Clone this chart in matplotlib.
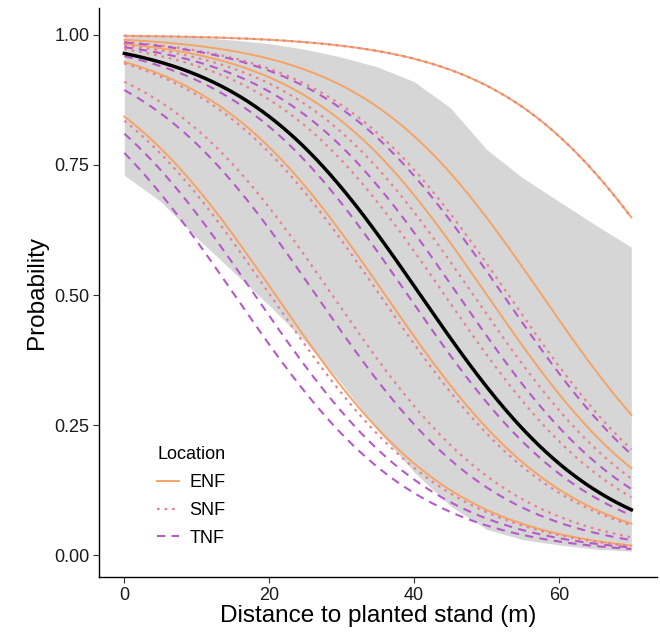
import numpy as np
import matplotlib

matplotlib.use("Agg")
import matplotlib.pyplot as plt
from matplotlib.lines import Line2D

plt.rcParams["font.family"] = ["Liberation Sans", "DejaVu Sans"]

# site-level intercepts (logit scale) with a shared distance slope
slope = -0.0805
enf_int = [6.25, 4.64, 4.03, 2.90, 1.68]
snf_int = [6.25, 4.27, 3.88, 3.56, 2.84, 2.31, 1.62]
tnf_int = [4.21, 3.71, 3.15, 2.13, 1.45, 1.225]
mean_int = 3.29

# confidence band of the population curve
band_x = [0, 5, 10, 15, 20, 25, 30, 35, 40, 45, 50, 55, 60, 65, 70]
band_hi = [0.998, 0.997, 0.995, 0.99, 0.983, 0.972, 0.957, 0.938, 0.91, 0.86, 0.78, 0.725, 0.68, 0.635, 0.592]
band_lo = [0.73, 0.68, 0.61, 0.545, 0.48, 0.41, 0.33, 0.24, 0.16, 0.095, 0.05, 0.03, 0.02, 0.012, 0.008]

colors = {"ENF": "#F5A465", "SNF": "#E8828C", "TNF": "#B65AC9"}
styles = {"ENF": "-", "SNF": (0, (1.2, 2.2)), "TNF": (0, (4, 3))}
widths = {"ENF": 1.4, "SNF": 1.6, "TNF": 1.5}

dist = np.linspace(0, 70, 300)


def curve(b0):
    return 1 / (1 + np.exp(-(b0 + slope * dist)))


fig = plt.figure(figsize=(6.6, 6.42), dpi=100)
ax = fig.add_axes([0.15, 0.101, 0.845, 0.887])

ax.fill_between(band_x, band_lo, band_hi, color="#D6D6D6", lw=0, zorder=1)

for loc, ints in (("ENF", enf_int), ("SNF", snf_int), ("TNF", tnf_int)):
    for b0 in ints:
        ax.plot(dist, curve(b0), color=colors[loc], ls=styles[loc], lw=widths[loc], zorder=2)

ax.plot(dist, curve(mean_int), color="black", lw=2.5, zorder=3)

ax.set_xlim(-3.5, 73.5)
ax.set_ylim(-0.042, 1.052)
ax.set_xticks([0, 20, 40, 60])
ax.set_yticks([0, 0.25, 0.5, 0.75, 1.0])
ax.set_yticklabels(["0.00", "0.25", "0.50", "0.75", "1.00"])
ax.tick_params(labelsize=13, length=4, width=0.8, color="#333333", labelcolor="#1a1a1a", pad=3)
for side in ("top", "right"):
    ax.spines[side].set_visible(False)
for side in ("left", "bottom"):
    ax.spines[side].set_linewidth(1.0)
ax.set_xlabel("Distance to planted stand (m)", fontsize=17.5, labelpad=1)
ax.set_ylabel("Probability", fontsize=17.5, labelpad=4)

handles = [Line2D([], [], color=colors[k], ls=styles[k], lw=widths[k]) for k in ("ENF", "SNF", "TNF")]
leg = ax.legend(handles, ["ENF", "SNF", "TNF"], title="Location", loc="lower left",
                bbox_to_anchor=(0.075, 0.025), frameon=False, fontsize=13, title_fontsize=13,
                handlelength=1.2, handletextpad=0.6, labelspacing=0.6)
leg._legend_box.align = "left"

fig.savefig("out.png", dpi=100)
